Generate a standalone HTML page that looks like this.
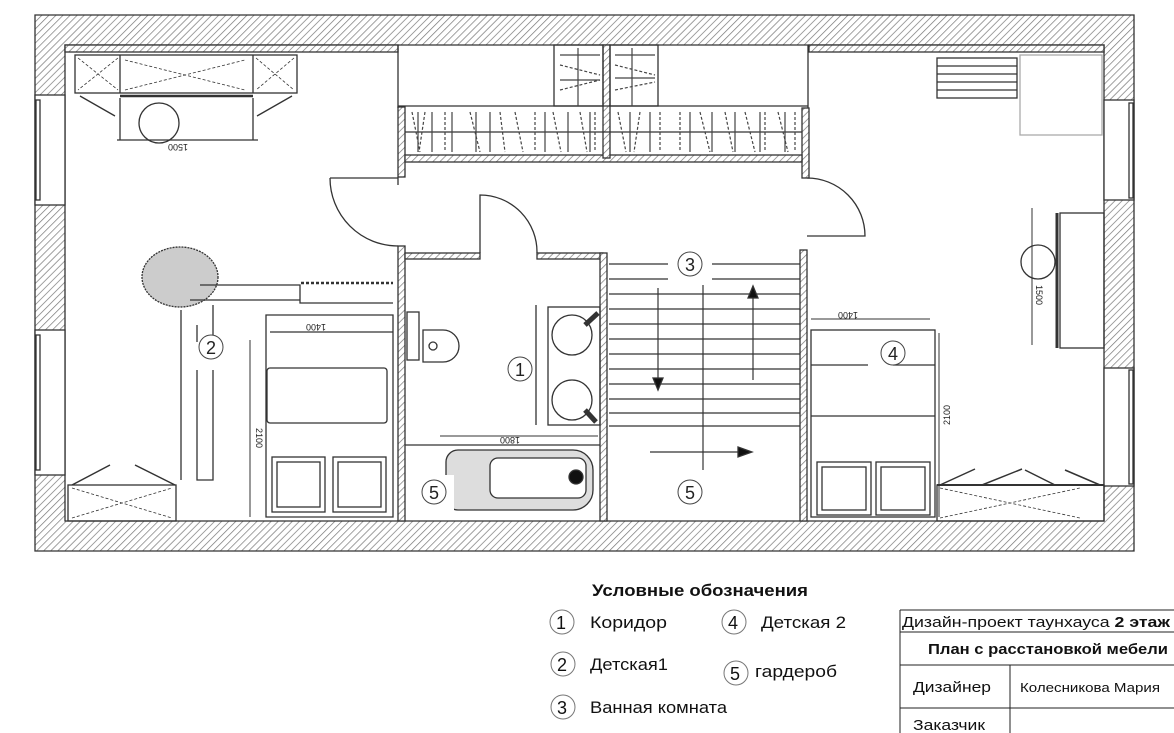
<!DOCTYPE html>
<html><head><meta charset="utf-8"><style>
html,body{margin:0;padding:0;background:#fff;}
svg{display:block}
text{font-family:"Liberation Sans",sans-serif;}
</style></head><body>
<svg width="1174" height="733" viewBox="0 0 1174 733" xmlns="http://www.w3.org/2000/svg">
<defs>
<pattern id="h" patternUnits="userSpaceOnUse" width="5" height="5" patternTransform="rotate(45)">
<rect width="5" height="5" fill="#fff"/><line x1="0" y1="0" x2="0" y2="5" stroke="#777" stroke-width="1.4"/>
</pattern>
</defs>
<g stroke="#333" stroke-width="1.3" fill="none">
<path d="M35 15H1134V551H35Z M65 45V521H1104V45Z" fill="url(#h)" fill-rule="evenodd"/>
<rect x="35" y="95" width="30" height="110" fill="#fff"/>
<rect x="35" y="330" width="30" height="145" fill="#fff"/>
<rect x="1104" y="100" width="30" height="100" fill="#fff"/>
<rect x="1104" y="368" width="30" height="118" fill="#fff"/>
<rect x="36" y="100" width="4" height="100"/>
<rect x="36" y="335" width="4" height="135"/>
<rect x="1129" y="103" width="4" height="95"/>
<rect x="1129" y="370" width="4" height="114"/>
<rect x="65" y="45" width="333" height="7" fill="url(#h)"/>
<rect x="809" y="45" width="295" height="7" fill="url(#h)"/>
<rect x="398" y="107" width="7" height="70" fill="url(#h)"/>
<rect x="802" y="108" width="7" height="70" fill="url(#h)"/>
<rect x="405" y="155" width="397" height="7" fill="url(#h)"/>
<rect x="603" y="45" width="7" height="113" fill="url(#h)"/>
<line x1="398" y1="45" x2="398" y2="108"/>
<line x1="808" y1="45" x2="808" y2="108"/>
<line x1="398" y1="106" x2="808" y2="106"/>
<line x1="405" y1="132" x2="802" y2="132"/>
<rect x="554" y="45" width="49" height="61"/>
<rect x="610" y="45" width="48" height="61"/>
<g stroke="#444" stroke-width="1.2" stroke-dasharray="3,2">
<path d="M412 112l8 40M425 112l-6 40M445 112l0 40M470 112l10 40M500 112l5 40M515 112l8 40M535 112l0 40M553 112l8 40M580 112l7 40M595 112l0 40M618 112l8 40M640 112l-6 40M660 112l0 40M680 112l0 40M700 112l10 40M725 112l8 40M745 112l10 40M765 112l0 40M778 112l10 40M795 112l0 40"/>
<path d="M560 65l40 10M560 90l40-10M615 65l40 10M615 90l40-8"/>
</g>
<g stroke="#444" stroke-width="1.2">
<path d="M418 112v40M432 112v40M452 112v40M476 112v40M490 112v40M545 112v40M568 112v40M590 112v40M630 112v40M650 112v40M690 112v40M712 112v40M735 112v40M760 112v40M785 112v40"/>
<path d="M560 55h40M560 80h40M615 55h40M615 78h40M578 48v58M632 48v58"/>
</g>
<path d="M330 178H398V185 M330 178A68 68 0 0 0 398 246" />
<rect x="398" y="246" width="7" height="275" fill="url(#h)"/>
<rect x="405" y="253" width="75" height="6" fill="url(#h)"/>
<rect x="537" y="253" width="66" height="6" fill="url(#h)"/>
<path d="M480 253V195A57 57 0 0 1 537 253"/>
<rect x="600" y="253" width="7" height="268" fill="url(#h)"/>
<rect x="407" y="312" width="12" height="48"/>
<path d="M423 330h20a14 14 0 0 1 0 32h-20z"/>
<circle cx="433" cy="346" r="4"/>
<rect x="548" y="307" width="52" height="118"/>
<circle cx="572" cy="335" r="20"/><circle cx="572" cy="400" r="20"/>
<line x1="585" y1="325" x2="598" y2="313" stroke-width="5"/>
<line x1="585" y1="410" x2="596" y2="422" stroke-width="5"/>
<line x1="536" y1="305" x2="536" y2="425"/>
<line x1="405" y1="445" x2="600" y2="445"/>
<line x1="440" y1="436" x2="598" y2="436" stroke-width="1"/>
<text x="520" y="443" font-size="9" fill="#222" stroke="none" transform="rotate(180 520 440)">1800</text>
<path d="M458 450h115a20 20 0 0 1 20 20v20a20 20 0 0 1 -20 20h-115a12 12 0 0 1 -12 -12v-36a12 12 0 0 1 12 -12z" fill="#ddd"/>
<rect x="490" y="458" width="96" height="40" rx="8" fill="#fff"/>
<circle cx="576" cy="477" r="7" fill="#111"/>
<rect x="418" y="475" width="36" height="43" fill="#fff" stroke="none"/>
<rect x="800" y="250" width="7" height="271" fill="url(#h)"/>
<path d="M807 178A58 58 0 0 1 865 236H807"/>
<g stroke-width="1.2">
<path d="M609 264H668M712 264H800M609 279H668M712 279H800"/>
<path d="M609 294H800M609 309H800M609 324H800M609 339H800M609 354H800M609 369H800M609 384H800M609 399H800M609 413H800M609 426H800"/>
<line x1="703" y1="285" x2="703" y2="426"/>
<line x1="703" y1="426" x2="703" y2="470"/>
<line x1="658" y1="288" x2="658" y2="380"/>
<line x1="753" y1="380" x2="753" y2="295"/>
<line x1="650" y1="452" x2="740" y2="452"/>
</g>
<path d="M653 378l5 12l5-12z M748 298l5-12l5 12z M738 447l14 5l-14 5z" fill="#111"/>
<rect x="75" y="55" width="222" height="38"/>
<line x1="120" y1="55" x2="120" y2="93"/><line x1="253" y1="55" x2="253" y2="93"/>
<path d="M78 58l40 32M118 58l-40 32M256 58l38 32M294 58l-38 32" stroke-dasharray="3,2" stroke-width="0.8"/>
<path d="M125 90l120-30M125 60l120 30" stroke-dasharray="3,2" stroke-width="0.8"/>
<line x1="120" y1="96" x2="253" y2="96" stroke-width="2.5"/>
<path d="M80 96l35 20M292 96l-35 20"/>
<path d="M120 98v42M253 98v42M117 140H258"/>
<circle cx="159" cy="123" r="20"/>
<text x="188" y="150" font-size="9" fill="#222" stroke="none" transform="rotate(180 188 147)">1500</text>
<ellipse cx="180" cy="277" rx="38" ry="30" fill="#ccc" stroke-dasharray="2,1"/>
<path d="M200 285H300V303H393 M190 300H300 M197 325V342 M213 342V305"/>
<path d="M181 310V480 M197 370V480H213V370"/>
<path d="M301 283H393" stroke-dasharray="3,2" stroke-width="2.5"/>
<path d="M266 315V517H393V315Z"/>
<path d="M270 332H393"/>
<text x="326" y="330" font-size="9" fill="#222" stroke="none" transform="rotate(180 326 327)">1400</text>
<path d="M250 340V517" stroke-width="1"/>
<text x="256" y="428" font-size="9" fill="#222" stroke="none" transform="rotate(90 256 428)">2100</text>
<rect x="267" y="368" width="120" height="55" rx="3"/>
<rect x="272" y="457" width="53" height="55"/><rect x="277" y="462" width="43" height="45"/>
<rect x="333" y="457" width="53" height="55"/><rect x="338" y="462" width="43" height="45"/>
<rect x="68" y="485" width="108" height="36"/>
<path d="M72 485l38-20M175 485l-40-20" stroke-width="1.5"/>
<path d="M72 488l100 30M72 518l100-30" stroke-dasharray="3,2" stroke-width="0.8"/>
<rect x="937" y="58" width="80" height="40"/>
<path d="M937 66H1017M937 74H1017M937 82H1017M937 90H1017" />
<rect x="1020" y="55" width="82" height="80" stroke="#aaa"/>
<rect x="1060" y="213" width="44" height="135"/>
<line x1="1057" y1="213" x2="1057" y2="348" stroke-width="3"/>
<path d="M1032 208V345" stroke-width="1"/>
<circle cx="1038" cy="262" r="17"/>
<text x="1036" y="285" font-size="9" fill="#222" stroke="none" transform="rotate(90 1036 285)">1500</text>
<rect x="811" y="330" width="124" height="187"/>
<path d="M811 365H868M893 365H935M811 416H935"/>
<path d="M811 319H930" stroke-width="1"/>
<text x="858" y="318" font-size="9" fill="#222" stroke="none" transform="rotate(180 858 315)">1400</text>
<line x1="939" y1="333" x2="939" y2="517" stroke-width="1"/>
<text x="945" y="430" font-size="9" fill="#222" stroke="none" transform="rotate(-90 945 425)">2100</text>
<rect x="817" y="462" width="54" height="53"/><rect x="822" y="467" width="44" height="43"/>
<rect x="876" y="462" width="54" height="53"/><rect x="881" y="467" width="44" height="43"/>
<rect x="937" y="485" width="167" height="36"/>
<line x1="937" y1="485" x2="1104" y2="485" stroke-width="2"/>
<path d="M940 485l35-16M982 485l40-16M1025 470l30 15M1065 470l35 15" stroke-width="1.5"/>
<path d="M940 488l140 30M940 518l140-30" stroke-dasharray="3,2" stroke-width="0.8"/>
</g>
<g fill="#fff" stroke="#444" stroke-width="1">
<circle cx="211" cy="347" r="12"/><circle cx="520" cy="369" r="12"/>
<circle cx="690" cy="264" r="12"/><circle cx="893" cy="353" r="12"/>
<circle cx="434" cy="492" r="12"/><circle cx="690" cy="492" r="12"/>
</g>
<g font-size="18" fill="#222" text-anchor="middle">
<text x="211" y="354">2</text><text x="520" y="376">1</text><text x="690" y="271">3</text>
<text x="893" y="360">4</text><text x="434" y="499">5</text><text x="690" y="499">5</text>
</g>
<text x="592" y="596" font-size="17" font-weight="bold" fill="#111" textLength="216" lengthAdjust="spacingAndGlyphs">Условные обозначения</text>
<g fill="none" stroke="#777" stroke-width="1">
<circle cx="562" cy="622" r="12"/><circle cx="734" cy="622" r="12"/>
<circle cx="563" cy="664" r="12"/><circle cx="736" cy="673" r="12"/>
<circle cx="563" cy="707" r="12"/>
</g>
<g font-size="18" fill="#111">
<text x="556" y="629">1</text><text x="728" y="629">4</text>
<text x="557" y="671">2</text><text x="730" y="680">5</text><text x="557" y="714">3</text>
</g>
<g font-size="17" fill="#111" lengthAdjust="spacingAndGlyphs">
<text x="590" y="628" textLength="77" lengthAdjust="spacingAndGlyphs">Коридор</text>
<text x="761" y="628" textLength="85" lengthAdjust="spacingAndGlyphs">Детская 2</text>
<text x="590" y="670" textLength="78" lengthAdjust="spacingAndGlyphs">Детская1</text>
<text x="755" y="677" textLength="82" lengthAdjust="spacingAndGlyphs">гардероб</text>
<text x="590" y="713" textLength="137" lengthAdjust="spacingAndGlyphs">Ванная комната</text>
</g>
<g stroke="#222" stroke-width="1" fill="none">
<path d="M900 610H1174M900 632H1174M900 665H1174M900 708H1174M900 610V733M1010 665V733"/>
</g>
<text x="902" y="627" font-size="15" fill="#111" textLength="268" lengthAdjust="spacingAndGlyphs">Дизайн-проект таунхауса <tspan font-weight="bold">2 этаж</tspan></text>
<text x="928" y="654" font-size="15" font-weight="bold" fill="#111" textLength="240" lengthAdjust="spacingAndGlyphs">План с расстановкой мебели</text>
<text x="913" y="692" font-size="15" fill="#111" textLength="78" lengthAdjust="spacingAndGlyphs">Дизайнер</text>
<text x="1020" y="692" font-size="13" fill="#111" textLength="140" lengthAdjust="spacingAndGlyphs">Колесникова Мария</text>
<text x="913" y="730" font-size="15" fill="#111" textLength="72" lengthAdjust="spacingAndGlyphs">Заказчик</text>
</svg>
</body></html>
